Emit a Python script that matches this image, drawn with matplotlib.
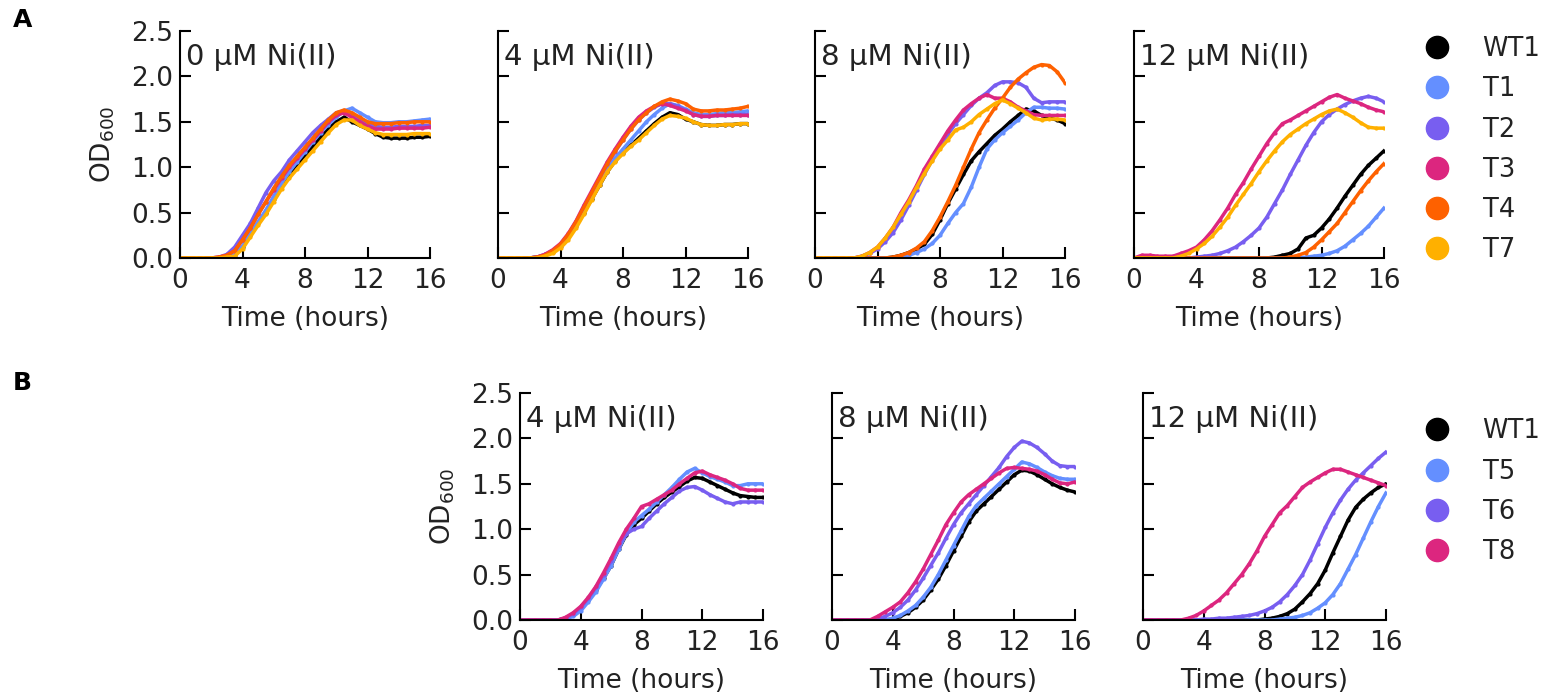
import numpy as np
import matplotlib
matplotlib.use("Agg")
from matplotlib import pyplot as plt
from matplotlib.lines import Line2D

# time points, every 0.5 h
hours = np.arange(0, 16.5, 0.5)

colors = {'WT1': '#000000', 'T1': '#648FFF', 'T2': '#785EF0', 'T3': '#DC267F',
          'T4': '#FE6100', 'T7': '#FFB000',
          'T5': '#648FFF', 'T6': '#785EF0', 'T8': '#DC267F'}

strains_a = ['WT1', 'T1', 'T2', 'T3', 'T4', 'T7']
strains_b = ['WT1', 'T5', 'T6', 'T8']
conc_a = ['0 µM Ni(II)', '4 µM Ni(II)', '8 µM Ni(II)', '12 µM Ni(II)']
conc_b = ['4 µM Ni(II)', '8 µM Ni(II)', '12 µM Ni(II)']

# ---- row A, 0 uM ----
a0_wt1 = [0,0,0,0,0,0,0.01,0.03,0.12,0.25,0.38,0.5,0.65,0.8,0.92,1.03,1.13,1.23,1.33,1.42,1.5,1.55,1.5,1.46,1.42,1.37,1.33,1.32,1.32,1.32,1.33,1.33,1.34]
a0_t1 = [0,0,0,0,0,0,0.01,0.03,0.13,0.27,0.4,0.53,0.68,0.82,0.95,1.06,1.17,1.28,1.38,1.47,1.55,1.62,1.65,1.6,1.55,1.5,1.49,1.49,1.5,1.5,1.51,1.52,1.53]
a0_t2 = [0,0,0,0,0,0.01,0.04,0.12,0.25,0.38,0.55,0.72,0.85,0.95,1.08,1.18,1.28,1.38,1.46,1.53,1.6,1.62,1.58,1.52,1.48,1.45,1.44,1.44,1.45,1.45,1.45,1.46,1.46]
a0_t3 = [0,0,0,0,0,0.01,0.03,0.08,0.2,0.33,0.48,0.62,0.75,0.88,1.0,1.1,1.2,1.3,1.4,1.5,1.57,1.6,1.55,1.5,1.45,1.42,1.42,1.42,1.43,1.43,1.43,1.43,1.44]
a0_t4 = [0,0,0,0,0,0.01,0.03,0.08,0.2,0.33,0.48,0.62,0.77,0.9,1.02,1.12,1.22,1.32,1.42,1.52,1.6,1.63,1.6,1.55,1.5,1.48,1.48,1.48,1.49,1.49,1.5,1.5,1.5]
a0_t7 = [0,0,0,0,0,0,0.01,0.02,0.1,0.23,0.36,0.48,0.62,0.76,0.88,0.98,1.08,1.18,1.28,1.38,1.47,1.52,1.52,1.46,1.42,1.38,1.36,1.36,1.36,1.36,1.37,1.37,1.37]

# ---- row A, 4 uM ----
a4_wt1 = [0,0,0,0,0,0.01,0.03,0.07,0.13,0.23,0.35,0.5,0.65,0.8,0.95,1.07,1.16,1.24,1.32,1.4,1.48,1.55,1.6,1.58,1.53,1.5,1.47,1.46,1.46,1.47,1.47,1.48,1.48]
a4_t1 = [0,0,0,0,0,0.01,0.03,0.07,0.13,0.23,0.36,0.52,0.68,0.83,0.97,1.1,1.2,1.3,1.4,1.5,1.58,1.65,1.7,1.68,1.64,1.6,1.58,1.58,1.59,1.6,1.6,1.61,1.62]
a4_t2 = [0,0,0,0,0,0.01,0.04,0.08,0.15,0.26,0.4,0.56,0.72,0.88,1.03,1.17,1.3,1.42,1.52,1.6,1.66,1.7,1.7,1.67,1.63,1.58,1.56,1.56,1.57,1.57,1.58,1.58,1.58]
a4_t3 = [0,0,0,0,0,0.01,0.04,0.09,0.16,0.27,0.41,0.58,0.74,0.9,1.06,1.2,1.33,1.45,1.55,1.62,1.67,1.7,1.68,1.65,1.62,1.58,1.56,1.56,1.57,1.57,1.57,1.57,1.57]
a4_t4 = [0,0,0,0,0,0.01,0.03,0.08,0.15,0.26,0.4,0.56,0.72,0.88,1.04,1.18,1.3,1.42,1.52,1.6,1.67,1.72,1.75,1.73,1.7,1.64,1.62,1.62,1.63,1.63,1.64,1.65,1.67]
a4_t7 = [0,0,0,0,0,0,0.02,0.05,0.11,0.2,0.33,0.48,0.64,0.8,0.95,1.06,1.15,1.23,1.3,1.38,1.46,1.53,1.57,1.56,1.54,1.5,1.47,1.46,1.46,1.47,1.47,1.48,1.48]

# ---- row A, 8 uM ----
a8_wt1 = [0,0,0,0,0,0,0,0,0,0,0.01,0.03,0.06,0.1,0.15,0.26,0.42,0.6,0.76,0.92,1.07,1.17,1.26,1.35,1.42,1.5,1.57,1.64,1.62,1.57,1.54,1.52,1.48]
a8_t1 = [0,0,0,0,0,0,0,0,0,0,0,0.01,0.03,0.06,0.1,0.16,0.25,0.38,0.5,0.6,0.78,1.0,1.2,1.3,1.38,1.45,1.52,1.6,1.66,1.66,1.65,1.65,1.64]
a8_t2 = [0,0,0,0,0,0,0.02,0.05,0.1,0.18,0.28,0.42,0.58,0.75,0.92,1.08,1.22,1.36,1.48,1.58,1.68,1.76,1.82,1.9,1.94,1.94,1.93,1.88,1.76,1.71,1.72,1.72,1.72]
a8_t3 = [0,0,0,0,0,0,0.02,0.06,0.12,0.22,0.34,0.5,0.64,0.8,0.98,1.12,1.26,1.4,1.52,1.63,1.7,1.76,1.8,1.76,1.76,1.72,1.66,1.62,1.58,1.57,1.57,1.57,1.57]
a8_t4 = [0,0,0,0,0,0,0,0,0,0,0.01,0.03,0.06,0.11,0.18,0.3,0.45,0.62,0.8,1.0,1.2,1.38,1.52,1.65,1.76,1.88,1.97,2.04,2.1,2.13,2.12,2.05,1.93]
a8_t7 = [0,0,0,0,0,0,0.02,0.06,0.12,0.22,0.34,0.48,0.62,0.78,0.93,1.07,1.2,1.3,1.41,1.44,1.5,1.58,1.64,1.7,1.74,1.7,1.65,1.6,1.54,1.52,1.53,1.53,1.52]

# ---- row A, 12 uM ----
a12_wt1 = [0,0,0,0,0,0,0,0,0,0,0,0,0,0,0,0,0,0,0.01,0.03,0.05,0.1,0.22,0.25,0.33,0.43,0.55,0.68,0.8,0.92,1.02,1.1,1.18]
a12_t1 = [0,0,0,0,0,0,0,0,0,0,0,0,0,0,0,0,0,0,0,0,0,0,0.01,0.02,0.03,0.05,0.08,0.13,0.2,0.27,0.35,0.45,0.55]
a12_t2 = [0,0,0,0,0,0,0,0,0.01,0.02,0.03,0.05,0.08,0.12,0.18,0.25,0.33,0.45,0.6,0.75,0.92,1.08,1.24,1.38,1.5,1.58,1.64,1.69,1.73,1.76,1.78,1.76,1.72]
a12_t3 = [0,0.03,0.03,0.02,0.02,0.02,0.05,0.08,0.12,0.2,0.3,0.42,0.55,0.7,0.83,0.98,1.12,1.26,1.38,1.48,1.52,1.57,1.62,1.67,1.72,1.77,1.8,1.76,1.73,1.7,1.66,1.63,1.61]
a12_t4 = [0,0,0,0,0,0,0,0,0,0,0,0,0,0,0,0,0,0,0,0,0.01,0.03,0.06,0.12,0.2,0.29,0.38,0.5,0.62,0.74,0.85,0.95,1.04]
a12_t7 = [0,0,0,0,0,0,0.02,0.05,0.1,0.16,0.24,0.34,0.45,0.58,0.7,0.82,0.95,1.07,1.18,1.28,1.36,1.42,1.48,1.53,1.58,1.62,1.64,1.6,1.55,1.49,1.44,1.43,1.43]

# ---- row B, 4 uM ----
b4_wt1 = [0,0,0,0,0,0,0.02,0.06,0.13,0.22,0.33,0.46,0.6,0.78,0.94,1.05,1.12,1.2,1.28,1.35,1.41,1.47,1.53,1.57,1.56,1.52,1.48,1.44,1.4,1.37,1.36,1.35,1.35]
b4_t5 = [0,0,0,0,0,0,0.01,0.04,0.1,0.2,0.31,0.45,0.6,0.78,0.95,1.08,1.15,1.22,1.3,1.38,1.46,1.55,1.63,1.67,1.62,1.58,1.55,1.52,1.48,1.48,1.5,1.5,1.5]
b4_t6 = [0,0,0,0,0,0,0.02,0.07,0.14,0.24,0.36,0.5,0.65,0.82,0.95,1.0,1.03,1.12,1.2,1.28,1.35,1.42,1.46,1.47,1.43,1.38,1.34,1.3,1.28,1.3,1.3,1.3,1.3]
b4_t8 = [0,0,0,0,0,0,0.03,0.08,0.15,0.25,0.37,0.52,0.68,0.85,1.0,1.12,1.25,1.28,1.33,1.38,1.43,1.5,1.56,1.62,1.64,1.6,1.57,1.54,1.5,1.45,1.43,1.43,1.43]

# ---- row B, 8 uM ----
b8_wt1 = [0,0,0,0,0,0,0,0,0.01,0.04,0.08,0.14,0.22,0.33,0.45,0.6,0.76,0.92,1.08,1.2,1.28,1.36,1.44,1.52,1.6,1.65,1.64,1.6,1.55,1.5,1.46,1.43,1.41]
b8_t5 = [0,0,0,0,0,0,0,0,0.02,0.05,0.1,0.16,0.25,0.36,0.5,0.66,0.82,0.98,1.14,1.26,1.34,1.42,1.5,1.58,1.66,1.74,1.72,1.68,1.63,1.59,1.56,1.55,1.55]
b8_t6 = [0,0,0,0,0,0,0.01,0.04,0.08,0.14,0.22,0.33,0.46,0.6,0.74,0.9,1.05,1.18,1.28,1.38,1.48,1.58,1.68,1.8,1.9,1.97,1.95,1.9,1.83,1.75,1.7,1.69,1.69]
b8_t8 = [0,0,0,0,0,0,0.04,0.09,0.14,0.2,0.3,0.42,0.56,0.72,0.88,1.05,1.18,1.3,1.38,1.44,1.5,1.56,1.62,1.67,1.68,1.67,1.66,1.64,1.6,1.55,1.51,1.5,1.52]

# ---- row B, 12 uM ----
b12_wt1 = [0,0,0,0,0,0,0,0,0,0,0,0,0,0,0,0,0.01,0.02,0.04,0.07,0.12,0.2,0.29,0.4,0.55,0.74,0.92,1.1,1.24,1.33,1.4,1.46,1.5]
b12_t5 = [0,0,0,0,0,0,0,0,0,0,0,0,0,0,0,0,0,0,0.01,0.02,0.03,0.05,0.08,0.13,0.19,0.28,0.4,0.56,0.72,0.9,1.08,1.25,1.4]
b12_t6 = [0,0,0,0,0,0,0,0,0.01,0.01,0.02,0.02,0.03,0.04,0.05,0.07,0.1,0.14,0.2,0.28,0.38,0.5,0.66,0.84,1.02,1.18,1.32,1.44,1.54,1.62,1.7,1.78,1.85]
b12_t8 = [0,0,0,0,0,0,0.02,0.05,0.1,0.16,0.22,0.3,0.4,0.5,0.62,0.76,0.92,1.05,1.18,1.26,1.36,1.46,1.52,1.57,1.62,1.66,1.66,1.63,1.6,1.57,1.54,1.51,1.48]

row_a = [
    [a0_wt1, a0_t1, a0_t2, a0_t3, a0_t4, a0_t7],
    [a4_wt1, a4_t1, a4_t2, a4_t3, a4_t4, a4_t7],
    [a8_wt1, a8_t1, a8_t2, a8_t3, a8_t4, a8_t7],
    [a12_wt1, a12_t1, a12_t2, a12_t3, a12_t4, a12_t7],
]
row_b = [
    [b4_wt1, b4_t5, b4_t6, b4_t8],
    [b8_wt1, b8_t5, b8_t6, b8_t8],
    [b12_wt1, b12_t5, b12_t6, b12_t8],
]

fig = plt.figure(figsize=(15.49, 6.97), dpi=100)

W, H = 1549, 697
lefts_a = [180, 498, 815, 1134]
lefts_b = [520, 832, 1143]
txt = '#222222'


def panel(left, width, top, bottom, curves, names, title, first):
    ax = fig.add_axes([left / W, 1 - bottom / H, width / W, (bottom - top) / H])
    for y, name in zip(curves, names):
        ax.plot(hours, y, color=colors[name], lw=2.5, marker='.', ms=4, label=name)
    ax.set_xlim(0, 16)
    ax.set_ylim(0, 2.5)
    ax.set_xticks([0, 4, 8, 12, 16])
    ax.set_yticks([0, 0.5, 1.0, 1.5, 2.0, 2.5])
    for s in ['top', 'right']:
        ax.spines[s].set_visible(False)
    for s in ['left', 'bottom']:
        ax.spines[s].set_linewidth(1.5)
    ax.tick_params(direction='in', length=8, width=1.5, labelsize=19, pad=5,
                   labelcolor=txt)
    ax.tick_params(axis='x', pad=7)
    ax.set_xlabel('Time (hours)', fontsize=19, labelpad=9, color=txt)
    if first:
        ax.set_ylabel('OD$_{600}$', fontsize=19, labelpad=10, color=txt)
    else:
        ax.set_yticklabels([])
    ax.text(0.025, 0.885, title, transform=ax.transAxes, fontsize=21, va='center',
            ha='left', color=txt)
    return ax


for i, (curves, title) in enumerate(zip(row_a, conc_a)):
    ax = panel(lefts_a[i], 250, 31, 258, curves, strains_a, title, i == 0)
    if i == 3:
        handles = [Line2D([], [], ls='none', marker='o', ms=16, color=colors[n]) for n in strains_a]
        ax.legend(handles, strains_a, loc='upper left', bbox_to_anchor=(1.12, 1.022),
                  frameon=False, fontsize=18.5, handlelength=1, handletextpad=1.27,
                  labelspacing=0.55, borderaxespad=0, labelcolor=txt)

for i, (curves, title) in enumerate(zip(row_b, conc_b)):
    ax = panel(lefts_b[i], 243, 393, 620, curves, strains_b, title, i == 0)
    if i == 2:
        handles = [Line2D([], [], ls='none', marker='o', ms=16, color=colors[n]) for n in strains_b]
        ax.legend(handles, strains_b, loc='upper left', bbox_to_anchor=(1.115, 0.933),
                  frameon=False, fontsize=18.5, handlelength=1, handletextpad=1.27,
                  labelspacing=0.55, borderaxespad=0, labelcolor=txt)

fig.text(13 / W, 1 - 20 / H, 'A', fontsize=18, fontweight='bold', va='center', ha='left')
fig.text(13 / W, 1 - 383 / H, 'B', fontsize=18, fontweight='bold', va='center', ha='left')

fig.savefig('out.png', dpi=100)
